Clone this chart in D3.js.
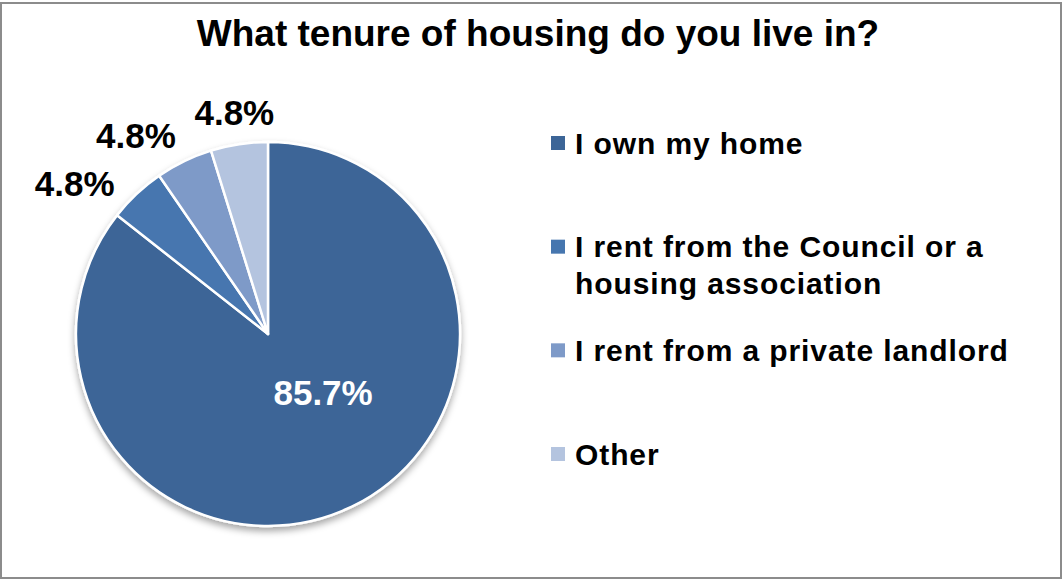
<!DOCTYPE html>
<html>
<head>
<meta charset="utf-8">
<script src="https://cdn.jsdelivr.net/npm/d3@7"></script>
<style>
  html, body { margin: 0; padding: 0; background: #fff; }
  svg { display: block; }
  text { font-family: "Liberation Sans", Arial, sans-serif; font-weight: bold; }
</style>
</head>
<body>
<svg id="chart" width="1063" height="580"></svg>
<script>
// Survey answers: housing tenure
const title = "What tenure of housing do you live in?";
const categories = [
  "I own my home",
  "I rent from the Council or a housing association",
  "I rent from a private landlord",
  "Other"
];
const shares = [85.7, 4.8, 4.8, 4.8];
const valueLabels = ["85.7%", "4.8%", "4.8%", "4.8%"];
const colors = ["#3c6597", "#4676af", "#7e9ac8", "#b4c4df"];

const W = 1063, H = 580;
const svg = d3.select("#chart");

// frame
svg.append("rect")
  .attr("x", 1).attr("y", 3).attr("width", W - 3).attr("height", H - 5)
  .attr("fill", "#fff").attr("stroke", "#8c8c8c").attr("stroke-width", 2);

// title
svg.append("text")
  .attr("x", 538).attr("y", 46)
  .attr("text-anchor", "middle")
  .attr("font-size", 37)
  .attr("fill", "#000")
  .text(title);

// drop shadow under the pie
const defs = svg.append("defs");
const f = defs.append("filter").attr("id", "pieShadow")
  .attr("x", "-20%").attr("y", "-20%").attr("width", "140%").attr("height", "140%");
f.append("feDropShadow")
  .attr("dx", 0).attr("dy", 4).attr("stdDeviation", 3.5)
  .attr("flood-color", "#000").attr("flood-opacity", 0.35);

const cx = 268, cy = 334, R = 192;

const pie = d3.pie().sort(null).value(d => d.v);
const arcs = pie(shares.map((v, i) => ({ v, i })));
const arc = d3.arc().innerRadius(0).outerRadius(R);

const g = svg.append("g").attr("transform", `translate(${cx},${cy})`);
g.append("g").attr("filter", "url(#pieShadow)")
  .selectAll("path")
  .data(arcs)
  .join("path")
  .attr("d", arc)
  .attr("fill", d => colors[d.data.i])
  .attr("stroke", "#fff")
  .attr("stroke-width", 2.5)
  .attr("stroke-linejoin", "round");

// value labels
const labelSize = 35;
const capH = labelSize * 0.716;
const labels = g.append("g");

// large slice: label inside
{
  const d = arcs[0];
  const a = (d.startAngle + d.endAngle) / 2 - 0.3;
  const rr = R * 0.42;
  labels.append("text")
    .attr("x", Math.sin(a) * rr)
    .attr("y", -Math.cos(a) * rr + capH / 2)
    .attr("text-anchor", "middle")
    .attr("font-size", labelSize)
    .attr("fill", "#fff")
    .text(valueLabels[0]);
}

// small slices: labels outside the edge, walking counter-clockwise from the top
// and sliding each one round the rim until it clears the ones already placed
const Rl = R + 14, gapX = 18, gapY = 22;
const placed = [];
function boxAt(a, w, h) {
  const ux = Math.sin(a), uy = -Math.cos(a);
  const ext = Math.abs(ux) * w / 2 + Math.abs(uy) * h / 2;
  const x = ux * (Rl + ext), y = uy * (Rl + ext);
  return { x, y, x0: x - w / 2, x1: x + w / 2, y0: y - h / 2, y1: y + h / 2 };
}
function clashes(b) {
  return placed.some(p =>
    b.x0 < p.x1 + gapX && b.x1 + gapX > p.x0 && b.y0 < p.y1 + gapY && b.y1 + gapY > p.y0);
}
for (let k = arcs.length - 1; k >= 1; k--) {
  const d = arcs[k];
  const t = labels.append("text")
    .attr("text-anchor", "middle")
    .attr("font-size", labelSize)
    .attr("fill", "#000")
    .text(valueLabels[d.data.i]);
  const w = t.node().getComputedTextLength();
  let a = (d.startAngle + d.endAngle) / 2;
  let b = boxAt(a, w, capH);
  while (clashes(b) && a > Math.PI) { a -= 0.005; b = boxAt(a, w, capH); }
  placed.push(b);
  t.attr("x", b.x).attr("y", b.y + capH / 2);
}

// legend
const legendSize = 30;
const legendY = d3.scalePoint().domain(categories).range([143, 454]);
const legend = svg.append("g");
const maxLine = 440, lineH = 37;
categories.forEach((c, i) => {
  const y = legendY(c);
  legend.append("rect")
    .attr("x", 551).attr("y", y - 7).attr("width", 14).attr("height", 14)
    .attr("fill", colors[i]);
  const t = legend.append("text")
    .attr("x", 575)
    .attr("font-size", legendSize)
    .attr("letter-spacing", 0.9)
    .attr("fill", "#000");
  // word wrap
  const words = c.split(" ");
  let line = [], n = 0;
  let ts = t.append("tspan").attr("x", 575).attr("y", y + legendSize * 0.716 / 2);
  words.forEach(wd => {
    line.push(wd);
    ts.text(line.join(" "));
    if (ts.node().getComputedTextLength() > maxLine && line.length > 1) {
      line.pop();
      ts.text(line.join(" "));
      line = [wd];
      n++;
      ts = t.append("tspan").attr("x", 575)
        .attr("y", y + legendSize * 0.716 / 2 + n * lineH).text(wd);
    }
  });
});
</script>
</body>
</html>
